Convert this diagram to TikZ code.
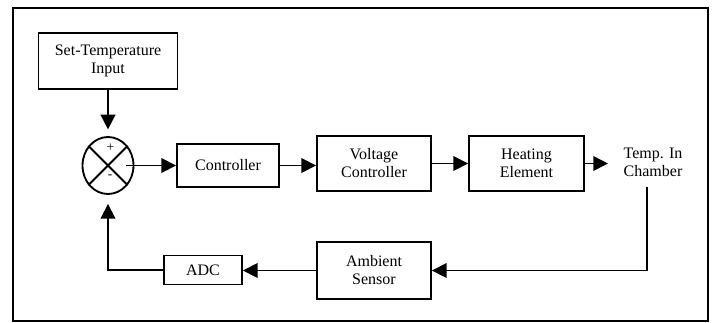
\documentclass[tikz,border=0pt]{standalone}
\usepackage{fontspec}
\setmainfont{Liberation Serif}
\usetikzlibrary{arrows.meta, positioning, shapes.geometric}

\begin{document}
\begin{tikzpicture}[
    x=0.75pt, y=-0.75pt,
    font=\fontsize{12}{13.5}\selectfont,
    block/.style={draw, line width=1.4pt, align=center, inner sep=1pt},
    sumnode/.style={ellipse, draw, line width=1.4pt, minimum width=38.25pt, minimum height=42.75pt, inner sep=0pt},
    conn/.style={-{Triangle[length=11pt, width=11pt]}, line width=1.2pt},
    sign/.style={inner sep=0pt, font=\fontsize{10}{12}\selectfont}
]
    \useasboundingbox (0,0) rectangle (716,322);
    % Outer frame
    \draw[line width=1.4pt] (13,8) rectangle (708,321);
    % Forward path
    \node[block, minimum width=104.25pt, minimum height=42pt] (SetTemp) at (108,61) {Set-Temperature\\Input};
    \node[sumnode] (Sum) at (108,165.5) {};
    \draw[line width=1.4pt] (Sum.45) -- (Sum.225);
    \draw[line width=1.4pt] (Sum.135) -- (Sum.315);
    \node[sign] (Plus) at (110.5,147.5) {+};
    \node[sign] (Minus) at (110,176.5) {-};
    \node[block, minimum width=76.5pt, minimum height=32.25pt] (Controller) at (228,165.5) {Controller};
    \node[block, minimum width=85.5pt, minimum height=41.25pt] (Voltage) at (374,163.5) {Voltage\\Controller};
    \node[block, minimum width=86.25pt, minimum height=41.25pt] (Heating) at (526.5,163.5) {Heating\\Element};
    \node[align=center, inner sep=0pt] (Temp) at (653,162) {Temp. In\\Chamber};
    % Feedback path
    \node[block, minimum width=85.5pt, minimum height=42.75pt] (Ambient) at (374,270.5) {Ambient\\Sensor};
    \node[block, minimum width=58.5pt, minimum height=21.75pt] (ADC) at (203,270) {ADC};
    \coordinate (Tap) at (647,187);
    % Connections
    \draw[conn, shorten >=5pt] (SetTemp.south) -- (Sum.north);
    \draw[conn, shorten <=-6pt] (Sum.east) -- (Controller.west);
    \draw[conn] (Controller.east) -- (Controller.east -| Voltage.west);
    \draw[conn] (Voltage.east) -- (Voltage.east -| Heating.west);
    \draw[conn, shorten >=11.5pt] (Heating.east) -- (Heating.east -| Temp.west);
    \draw[conn] (Tap) |- (Ambient.east);
    \draw[conn] (Ambient.west) -- (Ambient.west -| ADC.east);
    \draw[conn, shorten >=6.75pt] (ADC.west) -| (Sum.south);
\end{tikzpicture}
\end{document}
